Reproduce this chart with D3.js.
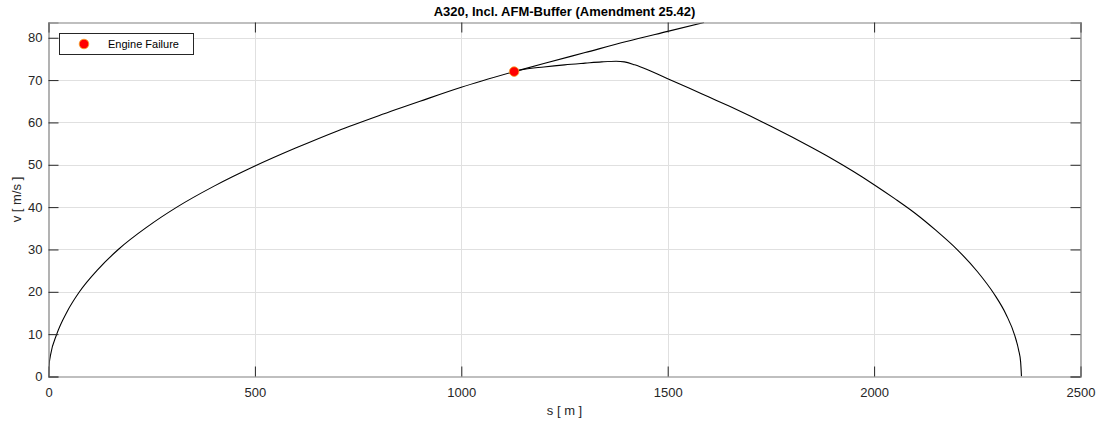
<!DOCTYPE html>
<html>
<head>
<meta charset="utf-8">
<script src="https://cdn.jsdelivr.net/npm/d3@7"></script>
<style>
  html, body { margin: 0; padding: 0; background: #fff; }
  svg { display: block; font-family: "Liberation Sans", Arial, Helvetica, sans-serif; }
</style>
</head>
<body>
<svg id="chart" width="1101" height="425"></svg>
<script>
// Take-off run with both engines until the engine failure point
const takeoffS = [0, 2, 5, 20, 45, 75, 120, 169, 240, 311, 400, 500, 600, 700, 800, 900, 1000, 1128];
const takeoffV = [0, 3.2, 5.1, 10, 15.3, 20, 25.3, 30, 35.4, 40, 44.9, 49.7, 54.0, 58.0, 61.6, 65.0, 68.3, 72.0];

// Continued take-off after the engine failure
const continueS = [1128, 1200, 1300, 1400, 1500, 1588];
const continueV = [72.0, 73.9, 76.5, 79.1, 81.5, 83.6];

// Rejected take-off: reaction time, then braking to standstill
const abortS = [1128, 1150, 1200, 1250, 1300, 1340, 1375, 1395, 1420, 1450, 1500, 1550, 1600, 1650, 1700, 1750, 1800, 1850, 1900, 1950, 2000, 2050, 2100, 2150, 2200, 2250, 2290, 2320, 2340, 2350, 2355, 2357];
const abortV = [72.0, 72.5, 73.1, 73.6, 74.0, 74.3, 74.45, 74.3, 73.6, 72.5, 70.3, 68.2, 66.0, 63.8, 61.5, 59.1, 56.6, 54.0, 51.3, 48.4, 45.3, 42.0, 38.5, 34.5, 30.1, 24.8, 19.6, 14.6, 9.9, 6.3, 3.4, 0];

const failureS = [1128];
const failureV = [72.0];

const xTicks = [0, 500, 1000, 1500, 2000, 2500];
const yTicks = [0, 10, 20, 30, 40, 50, 60, 70, 80];

const chartTitle = "A320, Incl. AFM-Buffer (Amendment 25.42)";
const xLabel = "s [ m ]";
const yLabel = "v [ m/s ]";
const legendLabel = "Engine Failure";

const margin = { left: 48.5, right: 1080.5, top: 22.5, bottom: 376.5 };
const svg = d3.select("#chart");

const x = d3.scaleLinear().domain([0, 2500]).range([margin.left, margin.right]);
const y = d3.scaleLinear().domain([0, 83.6]).range([margin.bottom, margin.top]);

const axisColor = "#262626";
const boxColor = "#808080";

// grid
const grid = svg.append("g");
grid.selectAll(".gx").data(xTicks.slice(1, -1)).join("line")
  .attr("x1", d => Math.round(x(d)) + 0.5).attr("x2", d => Math.round(x(d)) + 0.5)
  .attr("y1", margin.top).attr("y2", margin.bottom)
  .attr("stroke", "#e0e0e0").attr("stroke-width", 1);
grid.selectAll(".gy").data(yTicks.slice(1)).join("line")
  .attr("x1", margin.left).attr("x2", margin.right)
  .attr("y1", d => Math.round(y(d)) + 0.5).attr("y2", d => Math.round(y(d)) + 0.5)
  .attr("stroke", "#e0e0e0").attr("stroke-width", 1);

// clip for data
svg.append("clipPath").attr("id", "plotClip").append("rect")
  .attr("x", margin.left).attr("y", margin.top)
  .attr("width", margin.right - margin.left).attr("height", margin.bottom - margin.top);

const line = d3.line().x(d => x(d[0])).y(d => y(d[1])).curve(d3.curveMonotoneX);
const data = svg.append("g").attr("clip-path", "url(#plotClip)");

const series = [
  d3.zip(takeoffS, takeoffV),
  d3.zip(continueS, continueV),
  d3.zip(abortS, abortV)
];
data.selectAll("path.run").data(series).join("path")
  .attr("class", "run")
  .attr("d", line)
  .attr("fill", "none")
  .attr("stroke", "#000")
  .attr("stroke-width", 1.1);

// axes box
const axesG = svg.append("g");
const tickLen = 10;
function tickAxes() {
  const bottom = d3.axisBottom(x).tickValues(xTicks).tickSize(-tickLen).tickPadding(11).tickFormat(d3.format("d"));
  const top = d3.axisTop(x).tickValues(xTicks).tickSize(-tickLen).tickFormat("");
  const left = d3.axisLeft(y).tickValues(yTicks).tickSize(-tickLen).tickPadding(6).tickFormat(d3.format("d"));
  const right = d3.axisRight(y).tickValues(yTicks).tickSize(-tickLen).tickFormat("");

  const gb = axesG.append("g").attr("transform", `translate(0,${margin.bottom})`).call(bottom);
  const gt = axesG.append("g").attr("transform", `translate(0,${margin.top})`).call(top);
  const gl = axesG.append("g").attr("transform", `translate(${margin.left},0)`).call(left);
  const gr = axesG.append("g").attr("transform", `translate(${margin.right},0)`).call(right);
  [gb, gt, gl, gr].forEach(g => {
    g.select(".domain").attr("stroke", boxColor).attr("stroke-width", 1.2);
    g.selectAll(".tick line").attr("stroke", axisColor).attr("stroke-width", 1);
    g.selectAll(".tick text").attr("fill", axisColor).attr("font-size", 13)
      .attr("font-family", "'Liberation Sans', Arial, sans-serif");
  });
}
tickAxes();

// title and axis labels
svg.append("text")
  .attr("x", (margin.left + margin.right) / 2).attr("y", 16)
  .attr("text-anchor", "middle").attr("font-size", 13).attr("font-weight", "bold")
  .attr("fill", "#000").text(chartTitle);
svg.append("text")
  .attr("x", (margin.left + margin.right) / 2).attr("y", 415)
  .attr("text-anchor", "middle").attr("font-size", 13).attr("fill", axisColor).text(xLabel);
svg.append("text")
  .attr("transform", `translate(21,${(margin.top + margin.bottom) / 2}) rotate(-90)`)
  .attr("text-anchor", "middle").attr("font-size", 13).attr("fill", axisColor).text(yLabel);

// engine failure marker
svg.append("g").selectAll("circle").data(d3.zip(failureS, failureV)).join("circle")
  .attr("cx", d => x(d[0])).attr("cy", d => y(d[1])).attr("r", 4.8)
  .attr("fill", "#ff0000").attr("stroke", "#f5a623").attr("stroke-width", 0.8);

// legend
const lg = svg.append("g");
lg.append("rect").attr("x", 59.5).attr("y", 33.5).attr("width", 134).attr("height", 21)
  .attr("fill", "#fff").attr("stroke", axisColor).attr("stroke-width", 1);
lg.append("circle").attr("cx", 84).attr("cy", 44).attr("r", 4.8)
  .attr("fill", "#ff0000").attr("stroke", "#f5a623").attr("stroke-width", 0.8);
lg.append("text").attr("x", 108).attr("y", 48).attr("font-size", 11).attr("fill", "#000").text(legendLabel);
</script>
</body>
</html>
